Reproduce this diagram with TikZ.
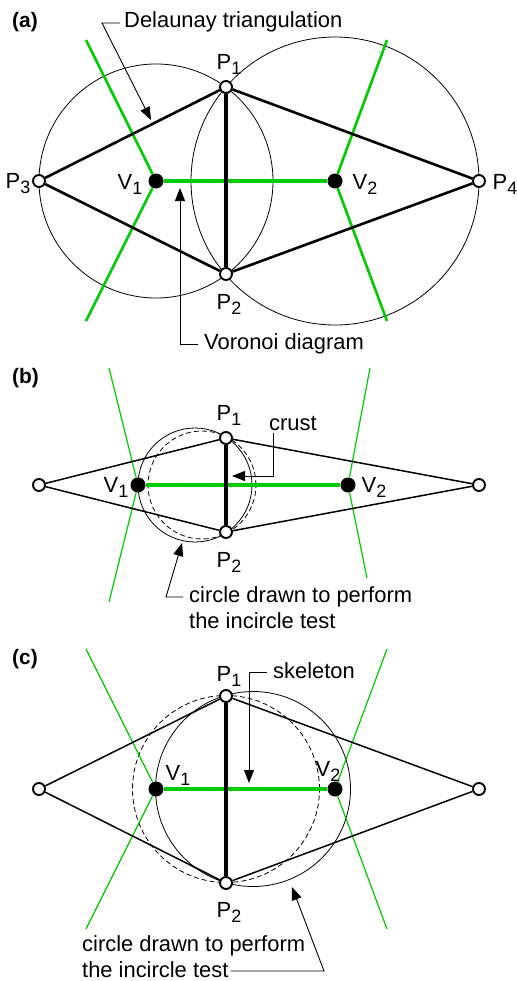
\documentclass[tikz,border=0pt]{standalone}
\usepackage{fontspec}
\setmainfont{Liberation Sans}
\usetikzlibrary{arrows.meta}
\definecolor{voro}{RGB}{0,204,0}
\newcommand\sublbl[2]{#1\raisebox{-5bp}{\fontsize{18}{18}\selectfont #2}}

\begin{document}
\begin{tikzpicture}[x=1bp,y=-1bp,>={Triangle[length=13bp,width=10bp]},
    font=\fontsize{22}{26}\selectfont,
    opendot/.style={circle,draw,fill=white,line width=1.9bp,inner sep=0pt,minimum size=12bp},
    fulldot/.style={circle,fill=black,inner sep=0pt,minimum size=15bp},
    ring/.style={line width=0.8bp},
    lead/.style={line width=0.9bp},
    txt/.style={inner sep=0pt,anchor=base west,align=left}]
        \useasboundingbox (0,0) rectangle (517,981);

        % (a) Delaunay triangulation and Voronoi diagram
        \node[font=\fontsize{21}{26}\selectfont\bfseries,txt] (tagA) at (12,27) {(a)};
        \draw[ring] (156,181) circle[radius=117bp];
        \draw[ring] (335,181) circle[radius=144bp];
        \node[fulldot] (v1a) at (156,181) {};
        \node[fulldot] (v2a) at (335,181) {};
        \coordinate (ga1) at (86,40);
        \coordinate (ga2) at (86,321);
        \coordinate (ga3) at (387,40);
        \coordinate (ga4) at (387,321);
        \draw[voro,line width=2.6bp] (ga1) -- (v1a) -- (ga2);
        \draw[voro,line width=2.6bp] (ga3) -- (v2a) -- (ga4);
        \draw[voro,line width=3.4bp] (v1a) -- (v2a);
        \node[opendot] (p1a) at (226,87) {};
        \node[opendot] (p2a) at (226,274) {};
        \node[opendot] (p3a) at (39,181) {};
        \node[opendot] (p4a) at (479,181) {};
        \draw[line width=2.6bp] (p3a) -- (p1a) -- (p4a) -- (p2a) -- (p3a);
        \draw[line width=3.4bp] (p1a) -- (p2a);
        \node (lp1a) at (229,64) {\sublbl{P}{1}};
        \node (lp2a) at (229,304) {\sublbl{P}{2}};
        \node (lp3a) at (18,184) {\sublbl{P}{3}};
        \node (lp4a) at (505,184) {\sublbl{P}{4}};
        \node (lv1a) at (130,184) {\sublbl{V}{1}};
        \node (lv2a) at (365,184) {\sublbl{V}{2}};
        \node[txt] (dtxt) at (124,27) {Delaunay triangulation};
        \coordinate (dlA) at (120,23);
        \coordinate (dlB) at (102,23);
        \coordinate (dlTip) at (151,120);
        \draw[->,lead] (dlA) -- (dlB) -- (dlTip);
        \node[txt] (vtxt) at (204,349) {Voronoi diagram};
        \coordinate (vlA) at (198,344);
        \coordinate (vlB) at (180,344);
        \coordinate (vlTip) at (180,188);
        \draw[->,lead] (vlA) -- (vlB) -- (vlTip);

        % (b) crust
        \node[font=\fontsize{21}{26}\selectfont\bfseries,txt] (tagB) at (12,383) {(b)};
        \draw[ring] (195,485) circle[radius=57bp];
        \draw[ring,dash pattern=on 5bp off 3bp] (202,485) circle[radius=54bp];
        \node[fulldot] (v1b) at (138,485) {};
        \node[fulldot] (v2b) at (348,485) {};
        \coordinate (gb1) at (109,368);
        \coordinate (gb2) at (109,602);
        \coordinate (gb3) at (370,368);
        \coordinate (gb4) at (367,578);
        \draw[voro,line width=1.2bp] (gb1) -- (v1b) -- (gb2);
        \draw[voro,line width=1.2bp] (gb3) -- (v2b) -- (gb4);
        \draw[voro,line width=4bp] (v1b) -- (v2b);
        \node[opendot] (p1b) at (226,438) {};
        \node[opendot] (p2b) at (226,532) {};
        \node[opendot] (p3b) at (39,485) {};
        \node[opendot] (p4b) at (479,485) {};
        \draw[line width=1.5bp] (p3b) -- (p1b) -- (p4b) -- (p2b) -- (p3b);
        \draw[line width=4bp] (p1b) -- (p2b);
        \node (lp1b) at (229,415) {\sublbl{P}{1}};
        \node (lp2b) at (229,562) {\sublbl{P}{2}};
        \node (lv1b) at (116,487) {\sublbl{V}{1}};
        \node (lv2b) at (374,487) {\sublbl{V}{2}};
        \node[txt] (ctxt) at (269,430) {crust};
        \coordinate (crA) at (273,433);
        \coordinate (crB) at (273,476);
        \coordinate (crTip) at (232,476);
        \draw[->,lead] (crA) -- (crB) -- (crTip);
        \node[txt] (itxtb) at (189,628) {circle drawn to perform\\the incircle test};
        \coordinate (cbA) at (183,597);
        \coordinate (cbB) at (166,597);
        \coordinate (cbTip) at (182,543);
        \draw[->,lead] (cbA) -- (cbB) -- (cbTip);

        % (c) skeleton
        \node[font=\fontsize{21}{26}\selectfont\bfseries,txt] (tagC) at (12,664) {(c)};
        \draw[ring] (253,789) circle[radius=97.5bp];
        \draw[ring,dash pattern=on 5bp off 3bp] (226,789) circle[radius=93.5bp];
        \node[fulldot] (v1c) at (156,789) {};
        \node[fulldot] (v2c) at (335,789) {};
        \coordinate (gc1) at (86,649);
        \coordinate (gc2) at (86,929);
        \coordinate (gc3) at (387,649);
        \coordinate (gc4) at (387,929);
        \draw[voro,line width=1.2bp] (gc1) -- (v1c) -- (gc2);
        \draw[voro,line width=1.2bp] (gc3) -- (v2c) -- (gc4);
        \draw[voro,line width=4bp] (v1c) -- (v2c);
        \node[opendot] (p1c) at (226,696) {};
        \node[opendot] (p2c) at (226,883) {};
        \node[opendot] (p3c) at (39,789) {};
        \node[opendot] (p4c) at (479,789) {};
        \draw[line width=1.5bp] (p3c) -- (p1c) -- (p4c) -- (p2c) -- (p3c);
        \draw[line width=4bp] (p1c) -- (p2c);
        \node (lp1c) at (229,676) {\sublbl{P}{1}};
        \node (lp2c) at (229,912) {\sublbl{P}{2}};
        \node (lv1c) at (178,775) {\sublbl{V}{1}};
        \node (lv2c) at (328,771) {\sublbl{V}{2}};
        \node[txt] (stxt) at (273,678) {skeleton};
        \coordinate (skA) at (267,672);
        \coordinate (skB) at (249,672);
        \coordinate (skTip) at (249,783);
        \draw[->,lead] (skA) -- (skB) -- (skTip);
        \node[txt] (itxtc) at (82,977) {circle drawn to perform\\the incircle test};
        \coordinate (ccA) at (231,971);
        \coordinate (ccB) at (324,971);
        \coordinate (ccTip) at (292,887);
        \draw[->,lead] (ccA) -- (ccB) -- (ccTip);
\end{tikzpicture}
\end{document}
